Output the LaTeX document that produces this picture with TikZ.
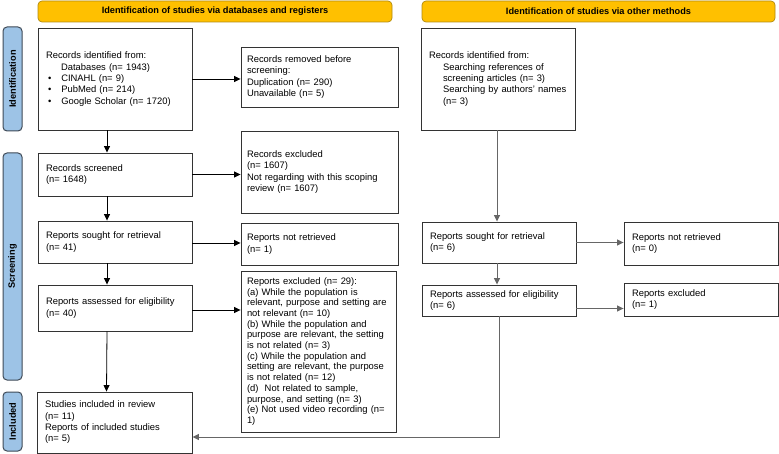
\documentclass[tikz,border=0pt]{standalone}
\usepackage{fontspec}
\setmainfont{Liberation Sans}
\usetikzlibrary{arrows.meta}
\definecolor{hdrfill}{HTML}{FFC000}
\definecolor{hdrline}{HTML}{B08A10}
\definecolor{sidefill}{HTML}{9DC3E6}
\definecolor{sideline}{HTML}{3F4A57}
\definecolor{boxline}{HTML}{333333}
\newcommand{\bfs}{\fontsize{9.4}{11.3}\selectfont}
\newcommand{\hfs}{\fontsize{9.2}{10}\selectfont\bfseries}
\tikzset{
  box/.style={draw=boxline, line width=0.9pt, fill=white, align=left, inner xsep=8pt, inner ysep=2pt, font=\bfs},
  hdr/.style={draw=hdrline, line width=0.7pt, fill=hdrfill, rounded corners=4pt, font=\hfs, inner sep=0pt},
  side/.style={draw=sideline, line width=1pt, fill=sidefill, rounded corners=4pt, rotate=90, font=\hfs, inner sep=0pt},
  arr/.style={draw=black, line width=0.8pt, -{Triangle[length=6.5pt,width=6pt]}},
  garr/.style={draw=gray!80!black, line width=0.9pt, -{Triangle[length=6.5pt,width=6pt]}}
}
\begin{document}
\begin{tikzpicture}[x=1pt,y=-1pt]
\useasboundingbox (0,0) rectangle (779,454);
% headers
\node[hdr, minimum width=354pt, minimum height=21pt] (h1) at (215,11.5) {Identification of studies via databases and registers};
\node[hdr, minimum width=353pt, minimum height=21pt] (h2) at (598.5,11.5) {Identification of studies via other methods};
% side labels
\node[side, minimum width=104pt, minimum height=19pt] (sid) at (12.5,79) {Identification};
\node[side, minimum width=227pt, minimum height=19pt] (sscr) at (12.5,266.5) {Screening};
\node[side, minimum width=59pt, minimum height=19pt] (sinc) at (12.5,421.5) {Included};
% left column
\node[box, minimum width=154pt, minimum height=102pt, text width=138pt] (rid) at (115,79) {Records identified from:\\
\hspace*{15pt}Databases (n= 1943)\\
\hspace*{2pt}\textbullet\hspace*{10pt}CINAHL (n= 9)\\
\hspace*{2pt}\textbullet\hspace*{10pt}PubMed (n= 214)\\
\hspace*{2pt}\textbullet\hspace*{10pt}Google Scholar (n= 1720)};
\node[box, minimum width=157pt, minimum height=60pt, text width=145pt, inner xsep=6pt] (rem) at (319.5,77) {Records removed before\\screening:\\Duplication (n= 290)\\Unavailable (n= 5)};
\node[box, minimum width=154pt, minimum height=43pt, text width=138pt] (scr) at (115,174.5) {Records screened\\(n= 1648)};
\node[box, minimum width=157pt, minimum height=82pt, text width=145pt, inner xsep=6pt] (exc) at (319.5,172) {Records excluded\\(n= 1607)\\Not regarding with this scoping\\review (n= 1607)};
\node[box, minimum width=154pt, minimum height=42pt, text width=138pt] (sought) at (115,242) {Reports sought for retrieval\\(n= 41)};
\node[box, minimum width=157pt, minimum height=42pt, text width=145pt, inner xsep=6pt] (notret) at (319.5,244) {Reports not retrieved\\(n= 1)};
\node[box, minimum width=154pt, minimum height=46pt, text width=138pt] (assess) at (115,308) {Reports assessed for eligibility\\(n= 40)};
\node[box, minimum width=155pt, minimum height=161pt, text width=143pt, inner xsep=6pt, font=\fontsize{9.4}{10.7}\selectfont] (rexc) at (318.5,351.5) {Reports excluded (n= 29):\\(a) While the population is\\relevant, purpose and setting are\\not relevant (n= 10)\\(b) While the population and\\purpose are relevant, the setting\\is not related (n= 3)\\(c) While the population and\\setting are relevant, the purpose\\is not related (n= 12)\\(d)\ \ Not related to sample,\\purpose, and setting (n= 3)\\(e) Not used video recording (n=\\1)};
\node[box, minimum width=155pt, minimum height=61pt, text width=139pt] (incl) at (114.5,422.5) {Studies included in review\\(n= 11)\\Reports of included studies\\(n= 5)};
% right column
\node[box, minimum width=154pt, minimum height=102pt, text width=138pt] (oid) at (498,79) {Records identified from:\\
\hspace*{14pt}Searching references of\\
\hspace*{14pt}screening articles (n= 3)\\
\hspace*{14pt}Searching by authors' names\\
\hspace*{14pt}(n= 3)};
\node[box, minimum width=154pt, minimum height=41pt, text width=138pt] (osought) at (499,242.5) {Reports sought for retrieval\\(n= 6)};
\node[box, minimum width=154pt, minimum height=43pt, text width=138pt] (onotret) at (701,243.5) {Reports not retrieved\\(n= 0)};
\node[box, minimum width=154pt, minimum height=31pt, text width=138pt] (oassess) at (499,300.5) {Reports assessed for eligibility\\(n= 6)};
\node[box, minimum width=154pt, minimum height=33pt, text width=138pt] (oexc) at (701,299.5) {Reports excluded\\(n= 1)};
% connectors left
\draw[arr] (rid.east) -- (rid.east -| rem.west);
\draw[arr] (scr.east) -- (scr.east -| exc.west);
\draw[arr] ([yshift=-1pt]sought.east) -- ([yshift=-1pt]sought.east -| notret.west);
\draw[arr] ([yshift=-2pt]assess.east) -- ([yshift=-2pt]assess.east -| rexc.west);
\draw[arr] ([xshift=-8pt]rid.south) -- ([xshift=-8pt]scr.north);
\draw[arr] ([xshift=-8pt]scr.south) -- ([xshift=-8pt]sought.north);
\draw[arr] ([xshift=-8pt]sought.south) -- ([xshift=-8pt]assess.north);
\draw[arr] ([xshift=-8pt]assess.south) -- ([xshift=-8pt]incl.north);
% connectors right
\draw[garr] ([xshift=-1pt]oid.south) -- ([xshift=-1pt]oid.south |- osought.north);
\draw[garr] ([xshift=-2pt]osought.south) -- ([xshift=-2pt]oassess.north);
\draw[garr] (osought.east) -- (osought.east -| onotret.west);
\draw[garr] ([yshift=-8pt]oassess.east) -- ([yshift=-8pt]oassess.east -| oexc.west);
\draw[garr] (oassess.south) |- ([yshift=-14.5pt]incl.east);
\end{tikzpicture}
\end{document}
